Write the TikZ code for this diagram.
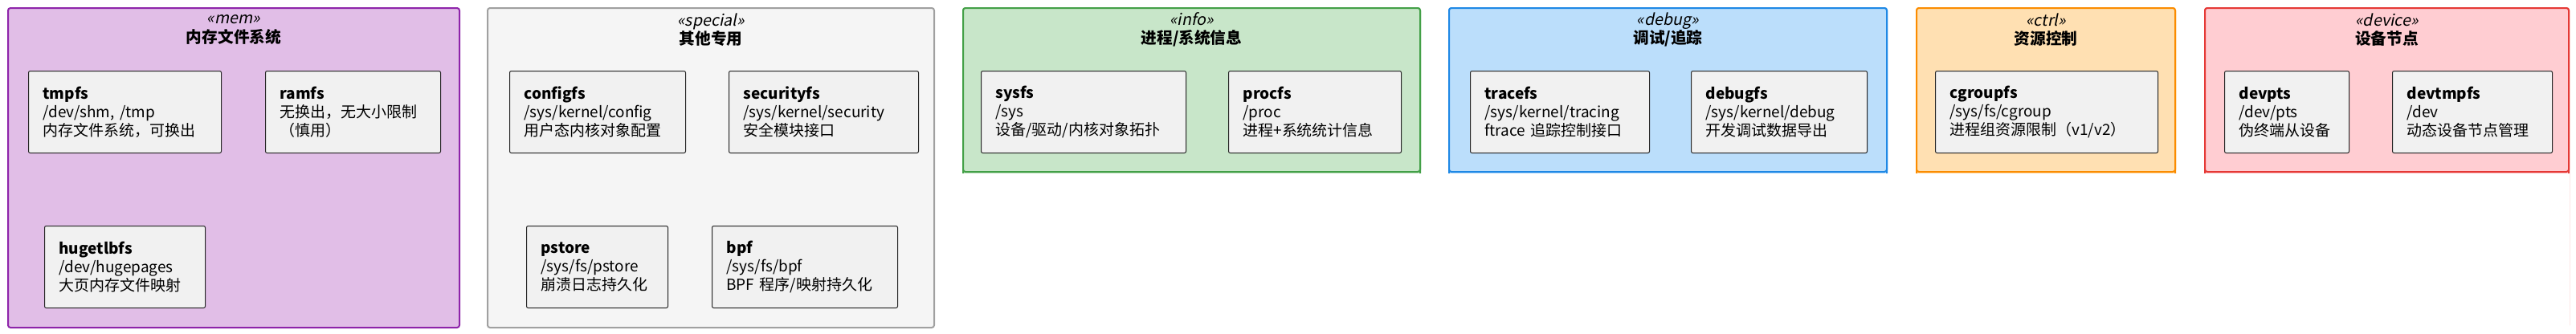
\documentclass[tikz,border=0pt]{standalone}
\usepackage{fontspec}
\setmainfont{Noto Sans CJK SC}[ItalicFont={Noto Sans CJK SC},ItalicFeatures={FakeSlant=0.2}]
\usepackage{tikz}

\definecolor{memfill}{HTML}{E1BEE7}\definecolor{memline}{HTML}{8E24AA}
\definecolor{spcfill}{HTML}{F5F5F5}\definecolor{spcline}{HTML}{A0A0A0}
\definecolor{inffill}{HTML}{C8E6C9}\definecolor{infline}{HTML}{43A047}
\definecolor{dbgfill}{HTML}{BBDEFB}\definecolor{dbgline}{HTML}{1E88E5}
\definecolor{ctlfill}{HTML}{FFE0B2}\definecolor{ctlline}{HTML}{FB8C00}
\definecolor{devfill}{HTML}{FFCDD2}\definecolor{devline}{HTML}{E53935}
\definecolor{boxfill}{HTML}{F1F1F1}

\tikzset{
  pkg/.style={rounded corners=0.03cm, line width=0.02cm},
  fsnode/.style={draw=black!85, fill=boxfill, rounded corners=0.02cm, line width=0.01cm,
    anchor=north west, align=left, inner xsep=0.18cm, inner ysep=0cm,
    font=\fontsize{5.4}{6.6}\selectfont},
  pkghead/.style={align=center, font=\fontsize{5.6}{6.6}\selectfont}
}

% package frame: name, fill, line, x1, x2, stereotype, title
\newcommand{\fspkg}[7]{%
  \draw [pkg, fill=#2, draw=#3] (#4,-0.10) rectangle (#5,-4.08);
  \node [pkghead] (#1) at ({(#4+#5)/2},-0.37) {\textit{«#6»}\\\textbf{#7}};
}
% file system box: name, x1, y1, x2, y2, title, path, description
\newcommand{\fsbox}[8]{%
  \node [fsnode, text width={(#4-#2-0.36)*1cm}, minimum height={(#5-#3)*1cm}] (#1) at (#2,-#3)
    {\textbf{#6}\\#7\\#8};
}

\begin{document}
\begin{tikzpicture}
    \useasboundingbox (0,0) rectangle (32.07,-4.15);

    \fspkg{mem}{memfill}{memline}{0.10}{5.72}{mem}{内存文件系统}
    \fspkg{special}{spcfill}{spcline}{6.07}{11.63}{special}{其他专用}
    \fspkg{info}{inffill}{infline}{11.99}{17.68}{info}{进程/系统信息}
    \fspkg{debug}{dbgfill}{dbgline}{18.04}{23.49}{debug}{调试/追踪}
    \fspkg{ctrl}{ctlfill}{ctlline}{23.86}{27.08}{ctrl}{资源控制}
    \fspkg{device}{devfill}{devline}{27.45}{31.98}{device}{设备节点}
    % info, debug, ctrl, device frames are shorter
    \fill [white] (11.97,-2.16) rectangle (31.99,-4.1);
    \draw [pkg, fill=inffill, draw=infline] (11.99,-0.10) rectangle (17.68,-2.14);
    \draw [pkg, fill=dbgfill, draw=dbgline] (18.04,-0.10) rectangle (23.49,-2.14);
    \draw [pkg, fill=ctlfill, draw=ctlline] (23.86,-0.10) rectangle (27.08,-2.14);
    \draw [pkg, fill=devfill, draw=devline] (27.45,-0.10) rectangle (31.98,-2.14);
    \node [pkghead] at (14.835,-0.37) {\textit{«info»}\\\textbf{进程/系统信息}};
    \node [pkghead] at (20.765,-0.37) {\textit{«debug»}\\\textbf{调试/追踪}};
    \node [pkghead] at (25.47,-0.37) {\textit{«ctrl»}\\\textbf{资源控制}};
    \node [pkghead] at (29.715,-0.37) {\textit{«device»}\\\textbf{设备节点}};

    \fsbox{tmpfs}{0.35}{0.88}{2.75}{1.90}{tmpfs}{/dev/shm, /tmp}{内存文件系统，可换出}
    \fsbox{ramfs}{3.30}{0.88}{5.48}{1.90}{ramfs}{无换出，无大小限制\\（慎用）}{}
    \fsbox{hugetlbfs}{0.55}{2.81}{2.55}{3.83}{hugetlbfs}{/dev/hugepages}{大页内存文件映射}
    \fsbox{configfs}{6.34}{0.88}{8.53}{1.90}{configfs}{/sys/kernel/config}{用户态内核对象配置}
    \fsbox{securityfs}{9.07}{0.88}{11.43}{1.90}{securityfs}{/sys/kernel/security}{安全模块接口}
    \fsbox{pstore}{6.55}{2.81}{8.31}{3.83}{pstore}{/sys/fs/pstore}{崩溃日志持久化}
    \fsbox{bpf}{8.86}{2.81}{11.17}{3.83}{bpf}{/sys/fs/bpf}{BPF 程序/映射持久化}
    \fsbox{sysfs}{12.21}{0.88}{14.76}{1.90}{sysfs}{/sys}{设备/驱动/内核对象拓扑}
    \fsbox{procfs}{15.29}{0.88}{17.44}{1.90}{procfs}{/proc}{进程+系统统计信息}
    \fsbox{tracefs}{18.30}{0.88}{20.53}{1.90}{tracefs}{/sys/kernel/tracing}{ftrace 追踪控制接口}
    \fsbox{debugfs}{21.05}{0.88}{23.24}{1.90}{debugfs}{/sys/kernel/debug}{开发调试数据导出}
    \fsbox{cgroupfs}{24.09}{0.88}{26.86}{1.90}{cgroupfs}{/sys/fs/cgroup}{进程组资源限制（v1/v2）}
    \fsbox{devpts}{27.69}{0.88}{29.24}{1.90}{devpts}{/dev/pts}{伪终端从设备}
    \fsbox{devtmpfs}{29.78}{0.88}{31.77}{1.90}{devtmpfs}{/dev}{动态设备节点管理}
\end{tikzpicture}
\end{document}
